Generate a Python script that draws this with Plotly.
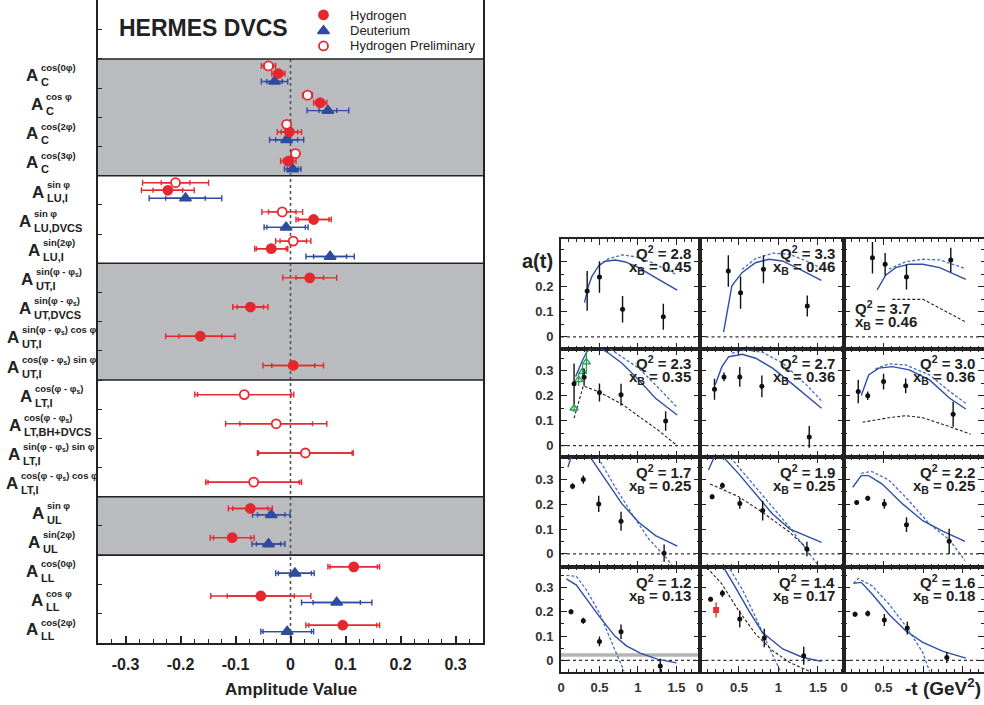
import plotly.graph_objects as go

W, H = 984, 705
FONT = "Liberation Sans, Arial, Helvetica, sans-serif"
RED = "#e5282d"
BLUE = "#2f4b9f"
GRAY_BAND = "#b9bbbe"
INK = "#222222"

# ---------------- Left panel: HERMES DVCS amplitudes ----------------
sup_labels = ["cos(0φ)", "cos φ", "cos(2φ)", "cos(3φ)",
              "sin φ", "sin φ", "sin(2φ)",
              "sin(φ - φ<sub>s</sub>)", "sin(φ - φ<sub>s</sub>)",
              "sin(φ - φ<sub>s</sub>) cos φ", "cos(φ - φ<sub>s</sub>) sin φ",
              "cos(φ - φ<sub>s</sub>)", "cos(φ - φ<sub>s</sub>)",
              "sin(φ - φ<sub>s</sub>) sin φ", "cos(φ - φ<sub>s</sub>) cos φ",
              "sin φ", "sin(2φ)",
              "cos(0φ)", "cos φ", "cos(2φ)"]
sub_labels = ["C", "C", "C", "C", "LU,I", "LU,DVCS", "LU,I", "UT,I", "UT,DVCS",
              "UT,I", "UT,I", "LT,I", "LT,BH+DVCS", "LT,I", "LT,I",
              "UL", "UL", "LL", "LL", "LL"]

N = None
hyd_val = [-0.022, 0.054, -0.002, -0.004, -0.223, 0.042, -0.035, 0.035, -0.073, -0.164, 0.005,
           N, N, N, N, -0.073, -0.106, 0.115, -0.054, 0.095]
hyd_tot = [0.012, 0.012, 0.022, 0.014, 0.048, 0.032, 0.030, 0.049, 0.032, 0.063, 0.055,
           N, N, N, N, 0.040, 0.040, 0.047, 0.091, 0.067]
hyd_stat = [0.008, 0.008, 0.015, 0.009, 0.027, 0.028, 0.027, 0.025, 0.024, 0.039, 0.039,
            N, N, N, N, 0.032, 0.034, 0.043, 0.061, 0.062]
deu_val = [-0.029, 0.068, -0.007, 0.004, -0.191, -0.008, 0.072, N, N, N, N,
           N, N, N, N, -0.035, -0.040, 0.008, 0.084, -0.006]
deu_tot = [0.024, 0.038, 0.031, 0.015, 0.066, 0.040, 0.044, N, N, N, N,
           N, N, N, N, 0.034, 0.030, 0.035, 0.064, 0.048]
deu_stat = [0.014, 0.016, 0.020, 0.010, 0.036, 0.035, 0.030, N, N, N, N,
            N, N, N, N, 0.025, 0.022, 0.030, 0.043, 0.044]
pre_val = [-0.040, 0.031, -0.007, 0.009, -0.209, -0.015, 0.005, N, N, N, N,
           -0.084, -0.026, 0.027, -0.067, N, N, N, N, N]
pre_tot = [0.013, 0.009, 0.005, 0.005, 0.060, 0.037, 0.032, N, N, N, N,
           0.090, 0.092, 0.087, 0.087, N, N, N, N, N]
pre_stat = [0.009, 0.006, 0.003, 0.003, 0.026, 0.025, 0.024, N, N, N, N,
            0.085, 0.066, 0.085, 0.083, N, N, N, N, N]

# groups of rows: (first, last, shaded)
row_groups = [(0, 3, True), (4, 6, False), (7, 10, True), (11, 14, False), (15, 16, True), (17, 19, False)]
x_ticks_left = [-0.3, -0.2, -0.1, 0.0, 0.1, 0.2, 0.3]
x_ticktext_left = ["-0.3", "-0.2", "-0.1", "0", "0.1", "0.2", "0.3"]
legend_names = ["Hydrogen", "Deuterium", "Hydrogen Preliminary"]

# ---------------- Right panel: a(t) vs -t ----------------
panel_q2 = ["2.8", "3.3", "3.7", "2.3", "2.7", "3.0", "1.7", "1.9", "2.2", "1.2", "1.4", "1.6"]
panel_xb = ["0.45", "0.46", "0.46", "0.35", "0.36", "0.36", "0.25", "0.25", "0.25", "0.13", "0.17", "0.18"]

data_t = [[0.34, 0.50, 0.80, 1.33], [0.365, 0.52, 0.81, 1.365], [0.36, 0.52, 0.79, 1.35],
          [0.17, 0.30, 0.50, 0.78, 1.36], [0.19, 0.31, 0.51, 0.79, 1.39], [0.18, 0.30, 0.50, 0.78, 1.38],
          [0.15, 0.29, 0.49, 0.78, 1.34], [0.16, 0.29, 0.51, 0.80, 1.36], [0.16, 0.30, 0.51, 0.79, 1.33],
          [0.13, 0.29, 0.50, 0.78, 1.29], [0.14, 0.29, 0.51, 0.82, 1.32], [0.14, 0.30, 0.51, 0.80, 1.30]]
data_a = [[0.184, 0.240, 0.110, 0.080], [0.264, 0.177, 0.271, 0.123], [0.317, 0.291, 0.240, 0.308],
          [0.248, 0.275, 0.213, 0.204, 0.099], [0.226, 0.276, 0.276, 0.238, 0.035], [0.217, 0.200, 0.257, 0.240, 0.126],
          [0.273, 0.300, 0.202, 0.132, 0.003], [0.231, 0.276, 0.204, 0.175, 0.020], [0.208, 0.225, 0.202, 0.118, 0.051],
          [0.200, 0.163, 0.078, 0.118, -0.023], [0.252, 0.276, 0.170, 0.092, 0.019], [0.190, 0.193, 0.166, 0.133, 0.012]]
data_err = [[0.080, 0.063, 0.053, 0.052], [0.063, 0.065, 0.056, 0.042], [0.063, 0.045, 0.050, 0.049],
            [0.082, 0.035, 0.036, 0.044, 0.039], [0.042, 0.018, 0.040, 0.044, 0.044], [0.047, 0.017, 0.032, 0.030, 0.050],
            [0.012, 0.017, 0.033, 0.038, 0.035], [0.010, 0.012, 0.022, 0.040, 0.029], [0.010, 0.010, 0.020, 0.030, 0.051],
            [0.010, 0.012, 0.020, 0.030, 0.030], [0.010, 0.015, 0.035, 0.038, 0.037], [0.010, 0.012, 0.025, 0.026, 0.023]]

solid_t = [[0.305, 0.357, 0.40, 0.488, 0.575, 0.706, 0.837, 1.01, 1.228, 1.51],
           [0.305, 0.37, 0.41, 0.538, 0.709, 0.88, 1.05, 1.265, 1.543],
           [0.419, 0.526, 0.654, 0.825, 0.996, 1.21, 1.54],
           [0.19, 0.27, 0.336, 0.42, 0.50, 0.619, 0.793, 1.01, 1.228, 1.51],
           [0.199, 0.284, 0.37, 0.541, 0.712, 0.925, 1.14, 1.545],
           [0.218, 0.312, 0.44, 0.611, 0.825, 1.081, 1.337, 1.54],
           [0.09, 0.14, 0.25, 0.379, 0.575, 0.793, 1.01, 1.229, 1.512],
           [0.113, 0.20, 0.25, 0.305, 0.497, 0.712, 0.925, 1.14, 1.545],
           [0.111, 0.218, 0.312, 0.483, 0.74, 0.996, 1.253, 1.53],
           [0.07, 0.20, 0.35, 0.50, 0.70, 0.85, 1.03, 1.25, 1.50],
           [0.25, 0.305, 0.455, 0.626, 0.797, 1.054, 1.31, 1.545],
           [0.12, 0.218, 0.355, 0.568, 0.78, 0.996, 1.253, 1.54]]
solid_a = [[0.137, 0.204, 0.241, 0.284, 0.303, 0.308, 0.300, 0.277, 0.237, 0.187],
           [0.019, 0.137, 0.204, 0.257, 0.297, 0.311, 0.304, 0.271, 0.226],
           [0.188, 0.247, 0.277, 0.291, 0.291, 0.277, 0.230],
           [0.277, 0.337, 0.377, 0.393, 0.393, 0.371, 0.331, 0.264, 0.190, 0.123],
           [0.244, 0.317, 0.357, 0.367, 0.351, 0.311, 0.257, 0.150],
           [0.201, 0.284, 0.311, 0.317, 0.304, 0.264, 0.190, 0.147],
           [0.35, 0.40, 0.45, 0.39, 0.302, 0.202, 0.128, 0.074, 0.031],
           [0.339, 0.40, 0.42, 0.39, 0.323, 0.242, 0.161, 0.101, 0.047],
           [0.269, 0.316, 0.316, 0.282, 0.202, 0.134, 0.091, 0.051],
           [0.335, 0.31, 0.245, 0.18, 0.10, 0.06, 0.03, 0.005, -0.01],
           [0.42, 0.383, 0.30, 0.204, 0.115, 0.047, 0.012, -0.004],
           [0.317, 0.321, 0.273, 0.19, 0.122, 0.074, 0.037, 0.009]]
dash_t = [[0.488, 0.619, 0.793, 0.967, 1.185, 1.49],
          [0.538, 0.709, 0.923, 1.137, 1.35, 1.543],
          [0.568, 0.78, 0.996, 1.21, 1.54],
          [0.45, 0.532, 0.62, 0.793, 1.01, 1.228, 1.51],
          [0.41, 0.583, 0.797, 1.054, 1.353, 1.545],
          [0.397, 0.568, 0.78, 1.08, 1.337, 1.54],
          [0.48, 0.706, 0.924, 1.141, 1.36, 1.447],
          [0.391, 0.626, 0.882, 1.14, 1.395, 1.523],
          [0.218, 0.35, 0.568, 0.78, 1.08, 1.337, 1.53],
          [0.07, 0.20, 0.33, 0.50, 0.68, 0.82],
          [0.30, 0.37, 0.541, 0.712, 0.882, 1.032],
          [0.12, 0.18, 0.355, 0.568, 0.78, 0.996, 1.081]]
dash_a = [[0.286, 0.313, 0.328, 0.321, 0.297, 0.251],
          [0.270, 0.313, 0.335, 0.331, 0.304, 0.275],
          [0.271, 0.301, 0.311, 0.308, 0.273],
          [0.392, 0.395, 0.392, 0.357, 0.311, 0.244, 0.153],
          [0.371, 0.384, 0.375, 0.331, 0.244, 0.180],
          [0.308, 0.328, 0.324, 0.284, 0.217, 0.170],
          [0.39, 0.269, 0.161, 0.06, -0.013, -0.047],
          [0.39, 0.302, 0.202, 0.108, 0.0, -0.054],
          [0.325, 0.333, 0.298, 0.229, 0.121, 0.056, -0.027],
          [0.35, 0.346, 0.29, 0.195, 0.058, -0.045],
          [0.43, 0.383, 0.293, 0.177, 0.053, -0.05],
          [0.317, 0.337, 0.307, 0.232, 0.142, 0.033, -0.045]]
black_t = [[], [], [0.611, 1.0, 1.54],
           [0.17, 0.29, 0.50, 0.80, 1.0, 1.25, 1.51], [], [0.235, 0.568, 0.78, 0.996, 1.337, 1.60],
           [], [0.135, 0.497, 0.797, 1.14, 1.395], [],
           [], [0.05, 0.092, 0.284, 0.497, 0.712, 0.925, 1.14, 1.395], []]
black_a = [[], [], [0.150, 0.150, 0.059],
           [0.11, 0.24, 0.215, 0.165, 0.12, 0.065, 0.0], [], [0.094, 0.112, 0.12, 0.112, 0.076, 0.046],
           [], [0.282, 0.231, 0.168, 0.088, 0.013], [],
           [], [0.42, 0.383, 0.314, 0.204, 0.108, 0.04, -0.008, -0.045], []]
green_t = [0.17, 0.23, 0.28, 0.33]      # panel Q2=2.3
green_a = [0.150, 0.264, 0.297, 0.335]
green_err = [0.015, 0.025, 0.030, 0.045]
red_t = [0.21]                          # panel Q2=1.4
red_a = [0.207]
red_err = [0.031]
band_lo, band_hi = 0.015, 0.029         # panel Q2=1.2

# ---------------- helpers ----------------
def fx(p):
    return p / W

def fy(p):
    return 1 - p / H

HB = {'a': 556, 'b': 611, 'c': 556, 'd': 611, 'e': 556, 'g': 611, 'h': 611, 'i': 278, 'l': 278,
      'm': 889, 'n': 611, 'o': 611, 'p': 611, 'r': 389, 's': 556, 't': 333, 'u': 611, 'v': 556,
      'x': 556, 'y': 556, 'A': 722, 'B': 722, 'C': 722, 'D': 722, 'H': 722, 'I': 278, 'L': 611,
      'S': 667, 'T': 611, 'U': 722, 'V': 667, '(': 333, ')': 333, ',': 278, '-': 333, '+': 584,
      ' ': 278, '0': 556, '2': 556, '3': 556, 'φ': 680}

def text_w(s, size):
    tot, sc, i = 0.0, 1.0, 0
    while i < len(s):
        if s.startswith('<sub>', i):
            sc = 0.7; i += 5; continue
        if s.startswith('</sub>', i):
            sc = 1.0; i += 6; continue
        tot += HB.get(s[i], 600) * sc
        i += 1
    return tot * size / 1000.0

fig = go.Figure()
shapes = []
annotations = []

# ---- left panel geometry (row units) ----
Y_TOP, Y_BOT = -2.52, 19.51
nrows = len(sub_labels)

def row_offsets(i):
    has_p = pre_val[i] is not None
    has_h = hyd_val[i] is not None
    has_d = deu_val[i] is not None
    if has_p and has_h and has_d:
        return -0.26, 0.0, 0.27
    if has_h and has_d:
        return None, -0.10, 0.12
    return 0.0, 0.0, 0.0

for (a, b, shaded) in row_groups:
    if shaded:
        shapes.append(dict(type="rect", xref="x domain", yref="y", x0=0, x1=1, y0=a - 0.5, y1=b + 0.5,
                           fillcolor=GRAY_BAND, line=dict(width=0), layer="below"))
for (a, b, shaded) in row_groups:
    shapes.append(dict(type="line", xref="x domain", yref="y", x0=0, x1=1, y0=a - 0.5, y1=a - 0.5,
                       line=dict(color=INK, width=1.6), layer="above"))
shapes.append(dict(type="line", xref="x", yref="y", x0=0, x1=0, y0=-0.5, y1=Y_BOT,
                   line=dict(color="#555555", width=1.6, dash="dot"), layer="below"))

def series(vals, tots, stats, off_idx, symbol, color, fill, size):
    xs, ys, et, es = [], [], [], []
    for i in range(nrows):
        if vals[i] is None:
            continue
        xs.append(vals[i])
        ys.append(i + row_offsets(i)[off_idx])
        et.append(tots[i])
        es.append(stats[i])
    fig.add_trace(go.Scatter(x=xs, y=ys, mode="markers", xaxis="x", yaxis="y",
                             marker=dict(size=1, color="rgba(0,0,0,0)"),
                             error_x=dict(type="data", array=es, color=color, thickness=1.4, width=2.5),
                             showlegend=False, hoverinfo="skip"))
    fig.add_trace(go.Scatter(x=xs, y=ys, mode="markers", xaxis="x", yaxis="y",
                             marker=dict(size=size, symbol=symbol, color=fill, line=dict(color=color, width=1.8)),
                             error_x=dict(type="data", array=et, color=color, thickness=1.4, width=3),
                             showlegend=False))

series(deu_val, deu_tot, deu_stat, 2, "triangle-up", BLUE, BLUE, 10)
series(hyd_val, hyd_tot, hyd_stat, 1, "circle", RED, RED, 9)
series(pre_val, pre_tot, pre_stat, 0, "circle", RED, "white", 9)

# legend markers (drawn in the header area of the left axes)
leg_y_px = [15, 31, 46]
leg_sym = [("circle", RED, RED), ("triangle-up", BLUE, BLUE), ("circle", RED, "white")]
for k in range(3):
    yv = (leg_y_px[k] - 73.6) / 29.18
    sym, col, fill = leg_sym[k]
    fig.add_trace(go.Scatter(x=[(324 - 291) / 550.0], y=[yv], mode="markers", xaxis="x", yaxis="y",
                             marker=dict(size=10 if k == 1 else 9, symbol=sym, color=fill,
                                         line=dict(color=col, width=1.8)),
                             showlegend=False, hoverinfo="skip"))
    annotations.append(dict(x=fx(348), y=fy(leg_y_px[k]), xref="paper", yref="paper", text=legend_names[k],
                            showarrow=False, xanchor="left", yanchor="middle",
                            font=dict(size=13, color=INK, family=FONT)))

annotations.append(dict(x=fx(203.5), y=fy(28), xref="paper", yref="paper", text="HERMES DVCS",
                        showarrow=False, xanchor="center", yanchor="middle",
                        font=dict(size=23, color=INK, family=FONT, weight="bold")))

# row labels: A with stacked superscript / subscript
A_SIZE, SUP_SIZE, SUB_SIZE, LABEL_CX = 17, 9.5, 11, 51
wA = 0.722 * A_SIZE
for i in range(nrows):
    ws = max(text_w(sup_labels[i], SUP_SIZE), text_w(sub_labels[i], SUB_SIZE))
    total = wA + 1 + ws
    a_right = LABEL_CX - total / 2 + wA
    annotations.append(dict(x=fx(a_right + 1), y=i + 0.06, xref="paper", yref="y", text="A",
                            showarrow=False, xanchor="right", yanchor="middle",
                            font=dict(size=A_SIZE, color=INK, family=FONT, weight="bold")))
    annotations.append(dict(x=fx(a_right), y=i - 0.2, xref="paper", yref="y", text=sup_labels[i],
                            showarrow=False, xanchor="left", yanchor="middle",
                            font=dict(size=SUP_SIZE, color=INK, family=FONT, weight="bold")))
    annotations.append(dict(x=fx(a_right), y=i + 0.28, xref="paper", yref="y", text=sub_labels[i],
                            showarrow=False, xanchor="left", yanchor="middle",
                            font=dict(size=SUB_SIZE, color=INK, family=FONT, weight="bold")))

annotations.append(dict(x=fx(290.5), y=fy(689), xref="paper", yref="paper", text="Amplitude Value",
                        showarrow=False, xanchor="center", yanchor="middle",
                        font=dict(size=17, color=INK, family=FONT, weight="bold")))

layout_axes = {}
layout_axes["xaxis"] = dict(domain=[fx(98), fx(483)], range=[-0.35, 0.35], tickmode="array",
                            tickvals=x_ticks_left, ticktext=x_ticktext_left, ticks="inside", ticklen=7,
                            tickwidth=1.5, tickcolor=INK, showline=True, mirror=True, linewidth=2,
                            linecolor=INK, showgrid=False, zeroline=False, anchor="y",
                            ticklabelstandoff=6,
                            tickfont=dict(size=16, color=INK, family=FONT, weight="bold"),
                            minor=dict(tickmode="linear", tick0=0, dtick=0.025, ticks="inside",
                                       ticklen=4, tickwidth=1.2, tickcolor=INK, showgrid=False))
layout_axes["yaxis"] = dict(domain=[fy(643), 1.0], range=[Y_BOT, Y_TOP], tickmode="array",
                            tickvals=[k + 0.5 for k in range(-3, 19)], showticklabels=False,
                            ticks="inside", ticklen=4, tickwidth=1.2, tickcolor=INK, showline=True,
                            mirror=True, linewidth=2, linecolor=INK, showgrid=False, zeroline=False,
                            anchor="x")

# ---- right panels ----
col_px = [(561, 699.5), (699.5, 844), (844, 984)]
row_px = [(239, 348.5), (348.5, 457.3), (457.3, 567.3), (567.3, 672.3)]
x_span = [1.80, 1.83, 1.77]
y_span = [(-0.047, 0.392), (-0.047, 0.390), (-0.054, 0.390), (-0.049, 0.383)]
SOLID_C = "#2d4fa6"
DASH_C = "#4a6cc0"

for n in range(12):
    r, c = divmod(n, 3)
    k = n + 2
    xa, ya = f"x{k}", f"y{k}"
    if n == 9:
        shapes.append(dict(type="rect", xref=f"{xa} domain", yref=ya, x0=0, x1=1, y0=band_lo, y1=band_hi,
                           fillcolor="#b4b4b4", line=dict(width=0), layer="below"))
    shapes.append(dict(type="line", xref=f"{xa} domain", yref=ya, x0=0, x1=1, y0=0, y1=0,
                       line=dict(color="#333333", width=1.3, dash="dot"), layer="below"))
    fig.add_trace(go.Scatter(x=dash_t[n], y=dash_a[n], mode="lines", xaxis=xa, yaxis=ya,
                             line=dict(color=DASH_C, width=1.3, dash="3px,2px"), showlegend=False))
    fig.add_trace(go.Scatter(x=solid_t[n], y=solid_a[n], mode="lines", xaxis=xa, yaxis=ya,
                             line=dict(color=SOLID_C, width=1.4), showlegend=False))
    if black_t[n]:
        fig.add_trace(go.Scatter(x=black_t[n], y=black_a[n], mode="lines", xaxis=xa, yaxis=ya,
                                 line=dict(color="#222222", width=1.1, dash="3px,2px"), showlegend=False))
    if n == 3:
        fig.add_trace(go.Scatter(x=green_t, y=green_a, mode="markers", xaxis=xa, yaxis=ya,
                                 marker=dict(symbol="triangle-up-open", size=7, color="#1f9c4b",
                                             line=dict(width=1.3, color="#1f9c4b")),
                                 error_y=dict(type="data", array=green_err, color="#1f9c4b",
                                              thickness=1.2, width=0), showlegend=False))
    fig.add_trace(go.Scatter(x=data_t[n], y=data_a[n], mode="markers", xaxis=xa, yaxis=ya,
                             marker=dict(size=5, color="#111111"),
                             error_y=dict(type="data", array=data_err[n], color="#111111",
                                          thickness=1.4, width=0), showlegend=False))
    if n == 10:
        fig.add_trace(go.Scatter(x=red_t, y=red_a, mode="markers", xaxis=xa, yaxis=ya,
                                 marker=dict(size=6, symbol="square", color="#e8342f"),
                                 error_y=dict(type="data", array=red_err, color="#e8342f",
                                              thickness=1.4, width=0), showlegend=False))
    xk = "xaxis" + str(k)
    yk = "yaxis" + str(k)
    xtext = ["0", "0.5", "1", "1.5"] if c < 2 else ["0", "0.5", "", ""]
    layout_axes[xk] = dict(domain=[fx(col_px[c][0]), fx(col_px[c][1])], range=[0, x_span[c]],
                           anchor=ya, tickmode="array", tickvals=[0, 0.5, 1, 1.5], ticktext=xtext,
                           showticklabels=(r == 3), ticks="inside", ticklen=6, tickwidth=1.2,
                           tickcolor=INK, showline=True, mirror="allticks", linewidth=2, linecolor=INK,
                           showgrid=False, zeroline=False, ticklabelstandoff=2,
                           tickfont=dict(size=13, color="#333333", family=FONT, weight="bold"),
                           minor=dict(tickmode="linear", tick0=0, dtick=0.1, ticks="inside", ticklen=3,
                                      tickwidth=1, tickcolor=INK, showgrid=False))
    ytext = ["0", "0.1", "0.2", "" if r == 0 else "0.3"]
    layout_axes[yk] = dict(domain=[fy(row_px[r][1]), fy(row_px[r][0])], range=list(y_span[r]),
                           anchor=xa, tickmode="array", tickvals=[0, 0.1, 0.2, 0.3], ticktext=ytext,
                           showticklabels=(c == 0), ticks="inside", ticklen=6, tickwidth=1.2,
                           tickcolor=INK, showline=True, mirror="allticks", linewidth=2, linecolor=INK,
                           showgrid=False, zeroline=False, ticklabelstandoff=3,
                           tickfont=dict(size=13, color="#333333", family=FONT, weight="bold"),
                           minor=dict(tickmode="linear", tick0=0, dtick=0.05, ticks="inside", ticklen=3,
                                      tickwidth=1, tickcolor=INK, showgrid=False))
    lab_font = dict(size=15, color=INK, family=FONT, weight="bold")
    if n == 2:
        annotations.append(dict(x=0, xshift=9, xref=f"{xa} domain", y=1, yshift=-69, yref=f"{ya} domain",
                                text=f"Q<sup>2</sup> = {panel_q2[n]}", showarrow=False,
                                xanchor="left", yanchor="middle", font=lab_font))
        annotations.append(dict(x=0, xshift=9, xref=f"{xa} domain", y=1, yshift=-84, yref=f"{ya} domain",
                                text=f"x<sub>B</sub> = {panel_xb[n]}", showarrow=False,
                                xanchor="left", yanchor="middle", font=lab_font))
    else:
        annotations.append(dict(x=1, xshift=-7, xref=f"{xa} domain", y=1, yshift=-14, yref=f"{ya} domain",
                                text=f"Q<sup>2</sup> = {panel_q2[n]}", showarrow=False,
                                xanchor="right", yanchor="middle", font=lab_font))
        annotations.append(dict(x=1, xshift=-7, xref=f"{xa} domain", y=1, yshift=-29, yref=f"{ya} domain",
                                text=f"x<sub>B</sub> = {panel_xb[n]}", showarrow=False,
                                xanchor="right", yanchor="middle", font=lab_font))

annotations.append(dict(x=fx(537), y=fy(261), xref="paper", yref="paper", text="a(t)",
                        showarrow=False, xanchor="center", yanchor="middle",
                        font=dict(size=20, color=INK, family=FONT, weight="bold")))
annotations.append(dict(x=fx(983), y=fy(687), xref="paper", yref="paper", text="-t (GeV<sup>2</sup>)",
                        showarrow=False, xanchor="right", yanchor="middle",
                        font=dict(size=19, color=INK, family=FONT, weight="bold")))

fig.update_layout(width=W, height=H, margin=dict(l=0, r=0, t=0, b=0, autoexpand=False),
                  paper_bgcolor="white", plot_bgcolor="rgba(0,0,0,0)", showlegend=False,
                  font=dict(family=FONT, color=INK), shapes=shapes, annotations=annotations,
                  **layout_axes)

fig.write_html("out.html", config={"displayModeBar": False},
               post_script="document.body.style.margin='0';document.body.style.padding='0';"
                           "document.documentElement.style.overflow='hidden';")
